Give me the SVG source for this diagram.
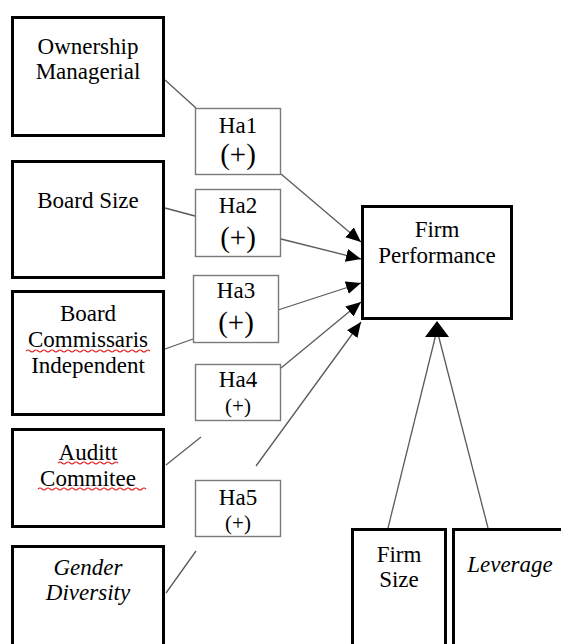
<svg xmlns="http://www.w3.org/2000/svg" width="561" height="644" viewBox="0 0 561 644">
<defs>
<marker id="ah" markerUnits="userSpaceOnUse" markerWidth="16" markerHeight="14" refX="15" refY="6.5" orient="auto">
<path d="M0,0 L15,6.5 L0,13 z" fill="#000"/>
</marker>
</defs>
<rect width="561" height="644" fill="#fff"/>
<g id="connectors" stroke="#5a5a5a" stroke-width="1.3" fill="none">
<line x1="165" y1="80" x2="196" y2="108"/>
<line x1="165" y1="208" x2="195" y2="216"/>
<line x1="165" y1="349" x2="193" y2="339"/>
<line x1="166" y1="465" x2="201" y2="437"/>
<line x1="166" y1="593" x2="196" y2="551"/>
<line x1="281" y1="174" x2="361" y2="242" marker-end="url(#ah)"/>
<line x1="281" y1="239" x2="361" y2="259" marker-end="url(#ah)"/>
<line x1="278" y1="310" x2="361" y2="283" marker-end="url(#ah)"/>
<line x1="281" y1="368" x2="361" y2="302" marker-end="url(#ah)"/>
<line x1="256" y1="466" x2="361" y2="322" marker-end="url(#ah)"/>
<line x1="388" y1="528" x2="437" y2="330"/>
<line x1="488" y1="528" x2="437" y2="330"/>
<path d="M437,321 L449,337 L425,337 z" fill="#000" stroke="none"/>
</g>
<g id="nodes" font-family="Liberation Serif" font-size="23" text-anchor="middle">
<g id="ownership">
<rect fill="#fff" stroke="#000" stroke-width="3" x="12.5" y="17.5" width="151" height="118"/>
<text x="88" y="54">Ownership</text>
<text x="88" y="79">Managerial</text>
</g>
<g id="boardsize">
<rect fill="#fff" stroke="#000" stroke-width="3" x="12.5" y="161.5" width="151" height="116"/>
<text x="88" y="208">Board Size</text>
</g>
<g id="commissaris">
<rect fill="#fff" stroke="#000" stroke-width="3" x="12.5" y="291.5" width="151" height="123"/>
<text x="88" y="321">Board</text>
<text x="88" y="347">Commissaris</text>
<path fill="none" stroke="#e02020" stroke-width="1.1" d="M26,351 q2,-2 4,0 t4,0 t4,0 t4,0 t4,0 t4,0 t4,0 t4,0 t4,0 t4,0 t4,0 t4,0 t4,0 t4,0 t4,0 t4,0 t4,0 t4,0 t4,0 t4,0 t4,0 t4,0 t4,0 t4,0 t4,0 t4,0 t4,0 t4,0 t4,0 t4,0 t4,0"/>
<text x="88" y="373">Independent</text>
</g>
<g id="audit">
<rect fill="#fff" stroke="#000" stroke-width="3" x="12.5" y="429.5" width="151" height="97"/>
<text x="88" y="460">Auditt</text>
<path fill="none" stroke="#e02020" stroke-width="1.1" d="M58,463 q2,-2 4,0 t4,0 t4,0 t4,0 t4,0 t4,0 t4,0 t4,0 t4,0 t4,0 t4,0 t4,0 t4,0 t4,0 t4,0"/>
<text x="88" y="486">Commitee</text>
<path fill="none" stroke="#e02020" stroke-width="1.1" d="M38,489 q2,-2 4,0 t4,0 t4,0 t4,0 t4,0 t4,0 t4,0 t4,0 t4,0 t4,0 t4,0 t4,0 t4,0 t4,0 t4,0 t4,0 t4,0 t4,0 t4,0 t4,0 t4,0 t4,0 t4,0 t4,0 t4,0 t4,0 t4,0"/>
</g>
<g id="gender">
<rect fill="#fff" stroke="#000" stroke-width="3" x="12.5" y="546.5" width="151" height="120"/>
<text font-style="italic" x="88" y="575">Gender</text>
<text font-style="italic" x="88" y="600">Diversity</text>
</g>
<g id="ha1">
<rect fill="#fff" stroke="#7a7a7a" stroke-width="1.4" x="195.5" y="108.5" width="85" height="66"/>
<text x="238" y="133">Ha1</text>
<text font-size="29" x="238" y="164">(+)</text>
</g>
<g id="ha2">
<rect fill="#fff" stroke="#7a7a7a" stroke-width="1.4" x="195.5" y="189.5" width="85" height="67"/>
<text x="238" y="213">Ha2</text>
<text font-size="29" x="238" y="247">(+)</text>
</g>
<g id="ha3">
<rect fill="#fff" stroke="#7a7a7a" stroke-width="1.4" x="193.5" y="275.5" width="85" height="67"/>
<text x="236" y="298">Ha3</text>
<text font-size="29" x="236" y="332">(+)</text>
</g>
<g id="ha4">
<rect fill="#fff" stroke="#7a7a7a" stroke-width="1.4" x="195.5" y="364.5" width="85" height="56"/>
<text x="238" y="387">Ha4</text>
<text font-size="21" x="238" y="413">(+)</text>
</g>
<g id="ha5">
<rect fill="#fff" stroke="#7a7a7a" stroke-width="1.4" x="195.5" y="480.5" width="85" height="56"/>
<text x="238" y="505">Ha5</text>
<text font-size="21" x="238" y="530">(+)</text>
</g>
<g id="firmperformance">
<rect fill="#fff" stroke="#000" stroke-width="3" x="362.5" y="206.5" width="149" height="112"/>
<text x="437" y="237">Firm</text>
<text x="437" y="263">Performance</text>
</g>
<g id="firmsize">
<rect fill="#fff" stroke="#000" stroke-width="3" x="352.5" y="529.5" width="93" height="130"/>
<text x="399" y="562">Firm</text>
<text x="399" y="587">Size</text>
</g>
<g id="leverage">
<rect fill="#fff" stroke="#000" stroke-width="3" x="453.5" y="529.5" width="120" height="130"/>
<text font-style="italic" x="510" y="572">Leverage</text>
</g>
</g>
</svg>
